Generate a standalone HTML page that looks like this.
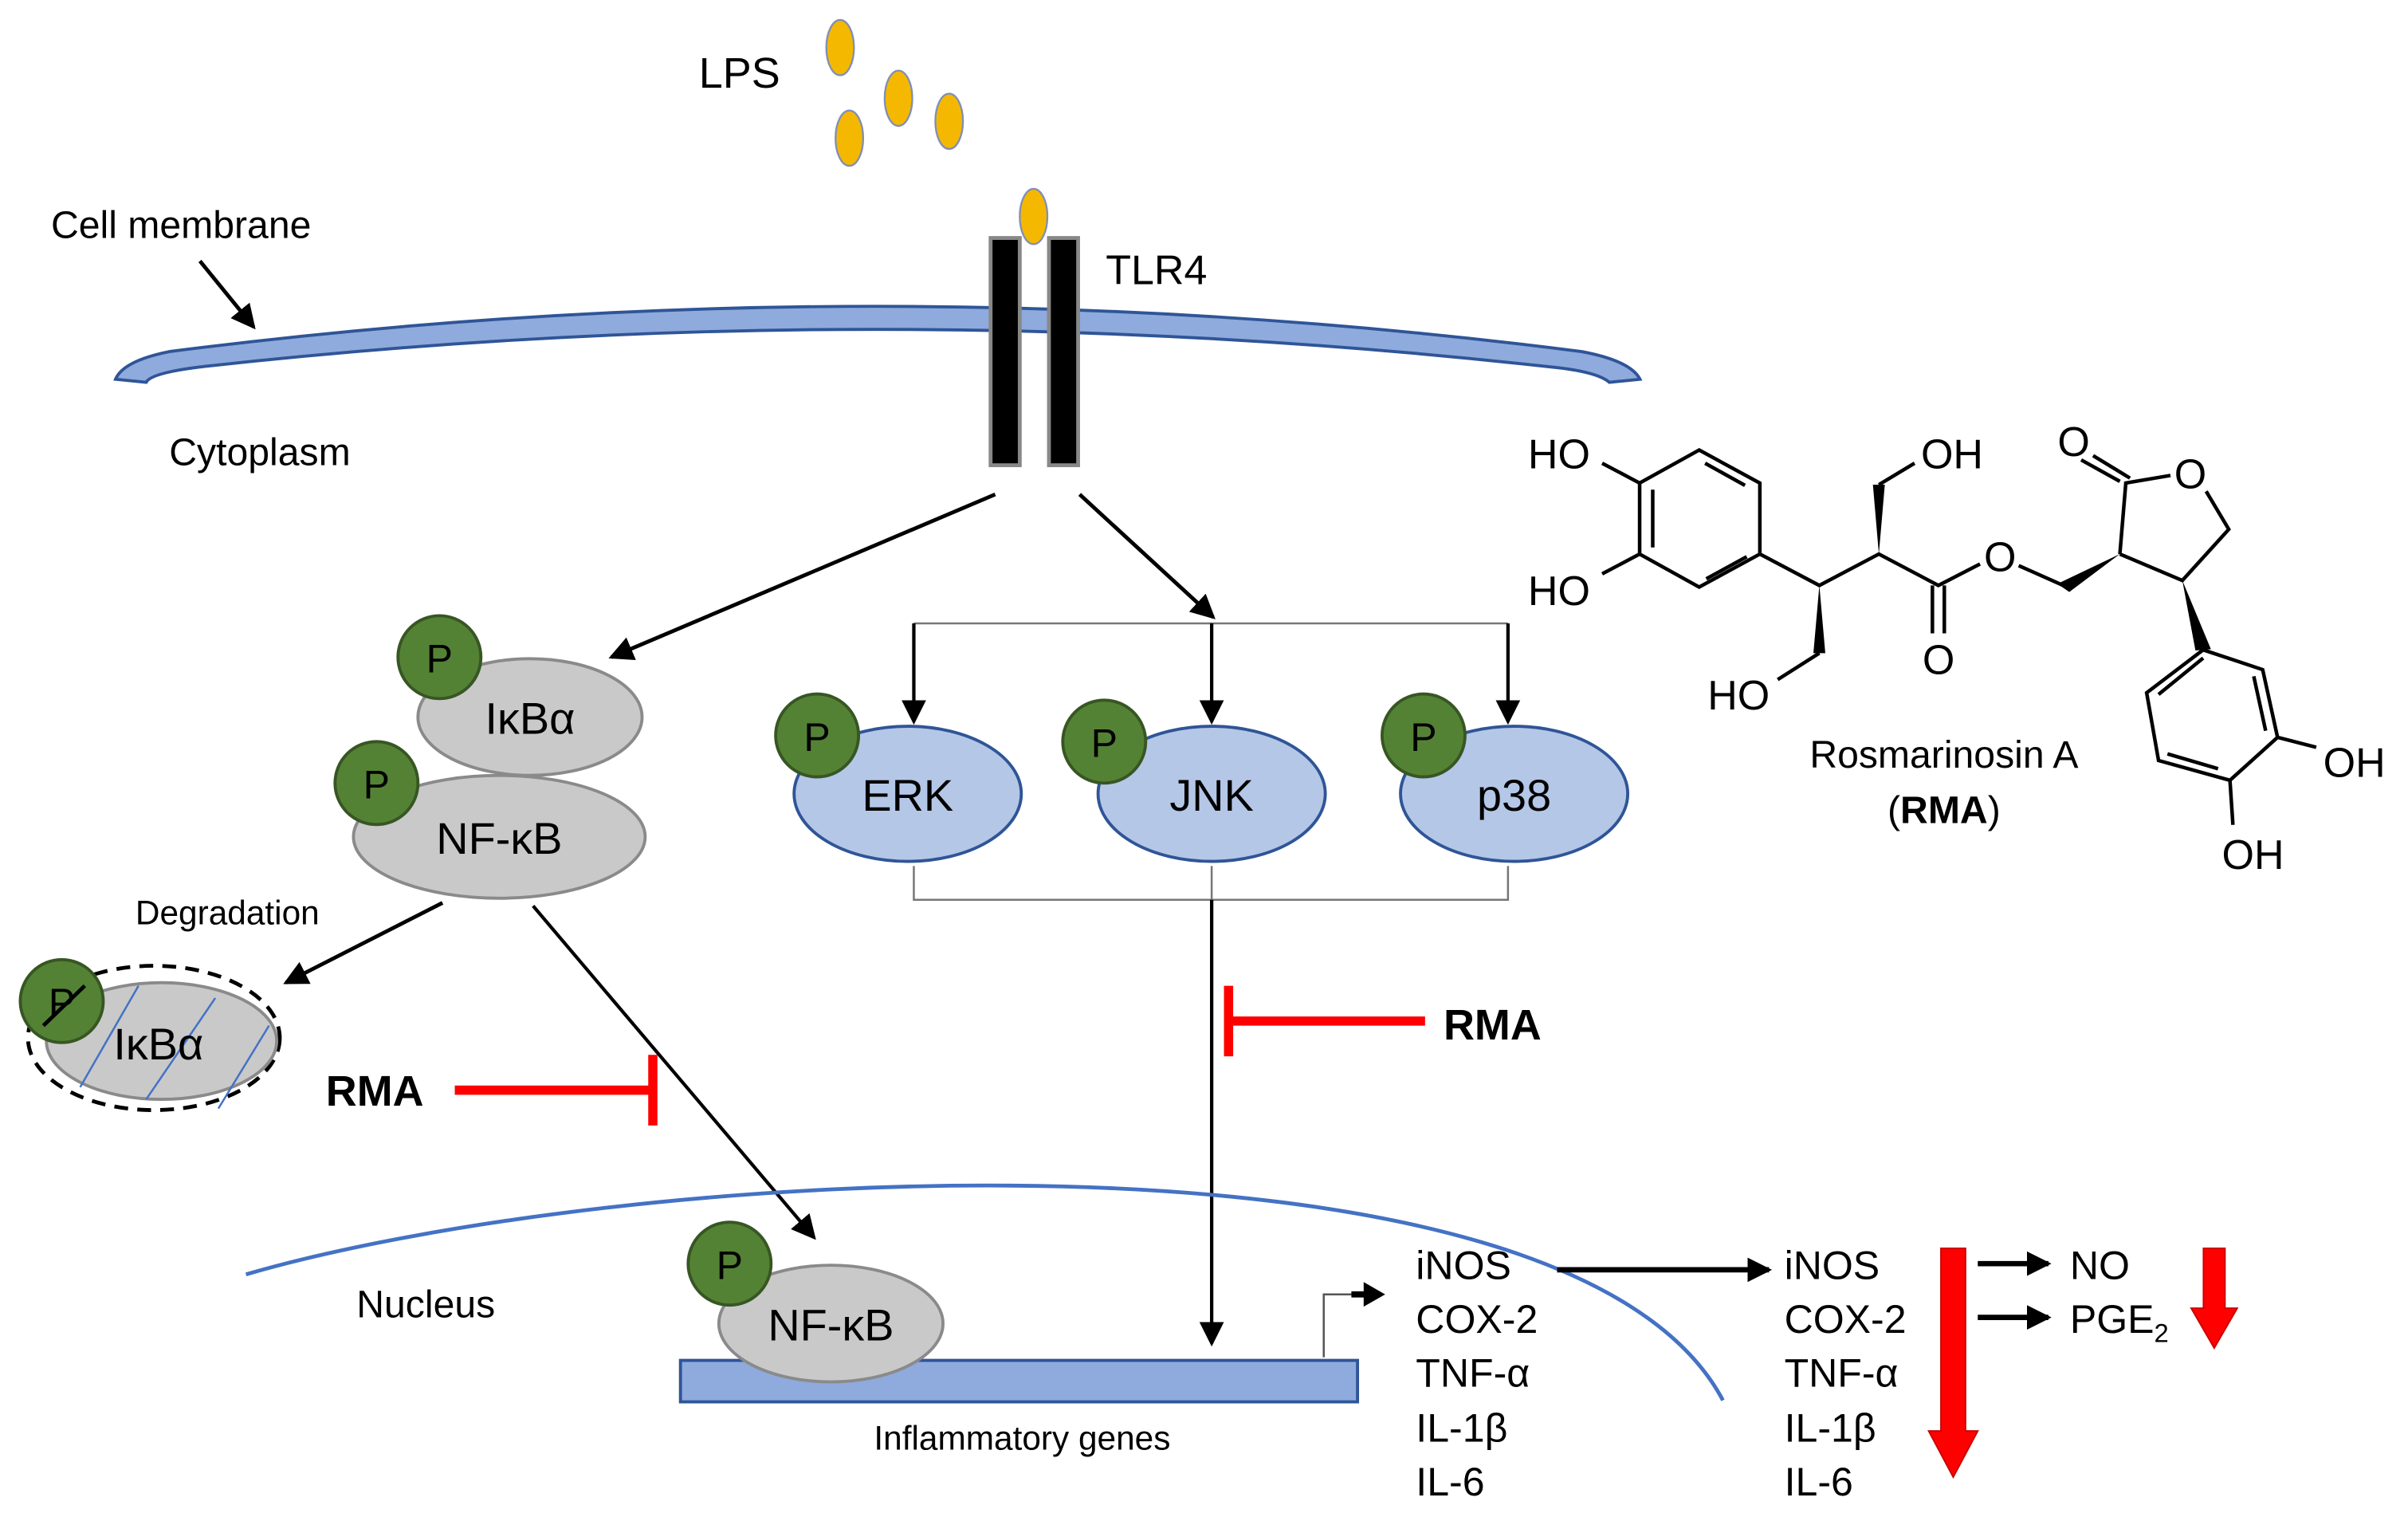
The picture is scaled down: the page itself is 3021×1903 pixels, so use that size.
<!DOCTYPE html>
<html><head><meta charset="utf-8"><style>
html,body{margin:0;padding:0;background:#fff}
svg{display:block}
text{font-family:"Liberation Sans Narrow","Liberation Sans",Arial,sans-serif;fill:#000}
</style></head><body>
<svg width="3021" height="1903" viewBox="0 0 1568 988" xmlns="http://www.w3.org/2000/svg">
<defs>
<marker id="ahb" markerWidth="16" markerHeight="16" refX="14" refY="8" orient="auto" markerUnits="userSpaceOnUse" viewBox="0 0 16 16"><path d="M0,0 L16,8 L0,16 z" fill="#000"/></marker>
</defs>
<rect width="1568" height="988" fill="#fff"/>

<text x="455" y="57" font-size="28">LPS</text>
<g fill="#f5b800" stroke="#7f8fb5" stroke-width="1.2">
<ellipse cx="547" cy="31" rx="9" ry="18"/>
<ellipse cx="585" cy="64" rx="9" ry="18"/>
<ellipse cx="618" cy="79" rx="9" ry="18"/>
<ellipse cx="553" cy="90" rx="9" ry="18"/>
</g>

<text x="33" y="155" font-size="25">Cell membrane</text>
<line x1="130" y1="170" x2="165" y2="213" stroke="#000" stroke-width="2.5" marker-end="url(#ahb)"/>
<path d="M75,247 Q80,235 110,229 Q570,170 1030,229 Q1062,235 1068,247 L1048,249 Q1040,242 1010,239 Q570,190 130,239 Q98,243 95,249 Z" fill="#8faadc" stroke="#2f5597" stroke-width="2"/>

<rect x="645" y="155" width="19" height="148" fill="#000" stroke="#888" stroke-width="2.5"/>
<rect x="683" y="155" width="19" height="148" fill="#000" stroke="#888" stroke-width="2.5"/>
<ellipse cx="673" cy="141" rx="9" ry="18" fill="#f5b800" stroke="#7f8fb5" stroke-width="1.2"/>
<text x="720" y="185" font-size="27">TLR4</text>
<text x="110" y="303" font-size="25">Cytoplasm</text>

<line x1="648" y1="322" x2="398" y2="428" stroke="#000" stroke-width="2.5" marker-end="url(#ahb)"/>
<line x1="703" y1="322" x2="790" y2="402" stroke="#000" stroke-width="2.5" marker-end="url(#ahb)"/>

<line x1="595" y1="406" x2="982" y2="406" stroke="#777" stroke-width="1.3"/>
<line x1="595" y1="406" x2="595" y2="470" stroke="#000" stroke-width="2.2" marker-end="url(#ahb)"/>
<line x1="789" y1="406" x2="789" y2="470" stroke="#000" stroke-width="2.2" marker-end="url(#ahb)"/>
<line x1="982" y1="406" x2="982" y2="470" stroke="#000" stroke-width="2.2" marker-end="url(#ahb)"/>

<g fill="#b4c7e7" stroke="#2f5597" stroke-width="2">
<ellipse cx="591" cy="517" rx="74" ry="44"/>
<ellipse cx="789" cy="517" rx="74" ry="44"/>
<ellipse cx="986" cy="517" rx="74" ry="44"/>
</g>
<text x="591" y="528" font-size="29" text-anchor="middle">ERK</text>
<text x="789" y="528" font-size="29" text-anchor="middle">JNK</text>
<text x="986" y="528" font-size="29" text-anchor="middle">p38</text>

<path d="M595,564 V586 H982 V564 M789,564 V586" fill="none" stroke="#777" stroke-width="1.3"/>
<line x1="789" y1="586" x2="789" y2="875" stroke="#000" stroke-width="2.2" marker-end="url(#ahb)"/>

<g fill="#c9c9c9" stroke="#8a8a8a" stroke-width="2">
<ellipse cx="345" cy="467" rx="73" ry="38"/>
<ellipse cx="325" cy="545" rx="95" ry="40"/>
</g>
<text x="345" y="478" font-size="29" text-anchor="middle">IκBα</text>
<text x="325" y="556" font-size="29" text-anchor="middle">NF-κB</text>

<text x="88" y="602" font-size="22">Degradation</text>
<line x1="288" y1="588" x2="186" y2="640" stroke="#000" stroke-width="2.5" marker-end="url(#ahb)"/>
<line x1="347" y1="590" x2="530" y2="806" stroke="#000" stroke-width="2.2" marker-end="url(#ahb)"/>

<ellipse cx="100" cy="676" rx="82" ry="47" fill="none" stroke="#000" stroke-width="2.5" stroke-dasharray="9,6"/>
<ellipse cx="105" cy="678" rx="75" ry="38" fill="#c9c9c9" stroke="#8a8a8a" stroke-width="2"/>
<g stroke="#4472c4" stroke-width="1.3">
<line x1="90" y1="642" x2="52" y2="708"/>
<line x1="140" y1="650" x2="95" y2="716"/>
<line x1="175" y1="668" x2="142" y2="722"/>
</g>
<text x="103" y="690" font-size="29" text-anchor="middle">IκBα</text>

<text x="212" y="720" font-size="28" font-weight="bold" style="font-family:'Liberation Sans',sans-serif">RMA</text>
<line x1="296" y1="710" x2="425" y2="710" stroke="#f00" stroke-width="6"/>
<line x1="425" y1="687" x2="425" y2="733" stroke="#f00" stroke-width="6"/>

<line x1="800" y1="665" x2="928" y2="665" stroke="#f00" stroke-width="6"/>
<line x1="800" y1="642" x2="800" y2="688" stroke="#f00" stroke-width="6"/>
<text x="940" y="677" font-size="28" font-weight="bold" style="font-family:'Liberation Sans',sans-serif">RMA</text>

<path d="M160,830 C400,760 1020,720 1122,912" fill="none" stroke="#4472c4" stroke-width="2.5"/>
<text x="232" y="858" font-size="25">Nucleus</text>
<rect x="443" y="886" width="441" height="27" fill="#8faadc" stroke="#2f5597" stroke-width="2"/>
<ellipse cx="541" cy="862" rx="73" ry="38" fill="#c9c9c9" stroke="#8a8a8a" stroke-width="2"/>
<text x="541" y="873" font-size="29" text-anchor="middle">NF-κB</text>
<text x="569" y="944" font-size="22">Inflammatory genes</text>
<path d="M862,884 V843 H900" fill="none" stroke="#555" stroke-width="1.3"/>
<path d="M888,835 L902,843 L888,851 z" fill="#000"/>
<line x1="880" y1="843" x2="892" y2="843" stroke="#000" stroke-width="4"/>

<g fill="#548235" stroke="#375623" stroke-width="2">
<circle cx="286" cy="428" r="27"/>
<circle cx="245" cy="510" r="27"/>
<circle cx="532" cy="479" r="27"/>
<circle cx="719" cy="483" r="27"/>
<circle cx="927" cy="479" r="27"/>
<circle cx="475" cy="823" r="27"/>
<circle cx="40" cy="652" r="27"/>
</g>
<g font-size="26" text-anchor="middle">
<text x="286" y="438">P</text><text x="245" y="520">P</text><text x="532" y="489">P</text>
<text x="719" y="493">P</text><text x="927" y="489">P</text><text x="475" y="833">P</text><text x="40" y="662">P</text>
</g>
<line x1="28" y1="668" x2="55" y2="642" stroke="#000" stroke-width="2.5"/>

<g font-size="26">
<text x="922" y="833">iNOS</text><text x="922" y="868">COX-2</text><text x="922" y="903">TNF-α</text><text x="922" y="939">IL-1β</text><text x="922" y="974">IL-6</text>
<text x="1162" y="833">iNOS</text><text x="1162" y="868">COX-2</text><text x="1162" y="903">TNF-α</text><text x="1162" y="939">IL-1β</text><text x="1162" y="974">IL-6</text>
<text x="1348" y="833">NO</text><text x="1348" y="868">PGE<tspan font-size="17" dy="6">2</tspan></text>
</g>
<line x1="1014" y1="827" x2="1152" y2="827" stroke="#000" stroke-width="3.5" marker-end="url(#ahb)"/>
<line x1="1288" y1="823" x2="1334" y2="823" stroke="#000" stroke-width="3.5" marker-end="url(#ahb)"/>
<line x1="1288" y1="858" x2="1334" y2="858" stroke="#000" stroke-width="3.5" marker-end="url(#ahb)"/>
<path d="M1264,813 H1280 V932 H1288 L1272,962 L1256,932 H1264 Z" fill="#f00" stroke="#c00" stroke-width="1"/>
<path d="M1435,813 H1449 V852 H1457 L1442,878 L1427,852 H1435 Z" fill="#f00" stroke="#c00" stroke-width="1"/>

<g transform="translate(960,249) scale(0.3876,0.2151)" fill="none" stroke="#000">
<g stroke-width="4.5">
<path vector-effect="non-scaling-stroke" d="M378,205 L480,305 L480,520 L378,620 L278,520 L278,305 Z"/>
<path vector-effect="non-scaling-stroke" d="M300,325 L300,500 M388,245 L455,312 M390,595 L458,528"/>
<path vector-effect="non-scaling-stroke" d="M278,305 L215,245 M278,520 L215,580"/>
<path vector-effect="non-scaling-stroke" d="M480,520 L580,615 L680,520 L780,615 L850,550 M915,555 L990,615"/>
<path vector-effect="non-scaling-stroke" d="M580,820 L510,900 M680,310 L740,245"/>
<path vector-effect="non-scaling-stroke" d="M770,615 L770,760 M790,615 L790,760"/>
<path vector-effect="non-scaling-stroke" d="M1085,520 L1095,305 L1170,282 M1230,330 L1268,445 L1190,600 L1085,520"/>
<path vector-effect="non-scaling-stroke" d="M1085,300 L1020,235 M1102,290 L1040,222"/>
<path vector-effect="non-scaling-stroke" d="M1225,810 L1325,870 L1350,1075 L1270,1205 L1150,1145 L1130,940 Z"/>
<path vector-effect="non-scaling-stroke" d="M1310,890 L1330,1055 M1250,1170 L1165,1125 M1150,945 L1225,835"/>
<path vector-effect="non-scaling-stroke" d="M1350,1075 L1415,1105 M1270,1205 L1275,1340"/>
</g>
<g fill="#000" stroke="none">
<polygon points="580,615 570,820 590,820"/>
<polygon points="680,520 670,310 690,310"/>
<polygon points="1085,520 980,610 1000,635"/>
<polygon points="1190,600 1212,812 1238,808"/>
</g>
</g>
<g font-size="27" style="font-family:'Liberation Sans',sans-serif">
<text x="995" y="305">HO</text>
<text x="995" y="394">HO</text>
<text x="1251" y="305">OH</text>
<text x="1340" y="297">O</text>
<text x="1416" y="318">O</text>
<text x="1292" y="372">O</text>
<text x="1252" y="439">O</text>
<text x="1112" y="462">HO</text>
<text x="1513" y="506">OH</text>
<text x="1447" y="566">OH</text>
</g>
<text x="1266" y="500" font-size="25" text-anchor="middle">Rosmarinosin A</text>
<text x="1266" y="536" font-size="25" text-anchor="middle">(<tspan font-weight="bold">RMA</tspan>)</text>
</svg>
</body></html>
